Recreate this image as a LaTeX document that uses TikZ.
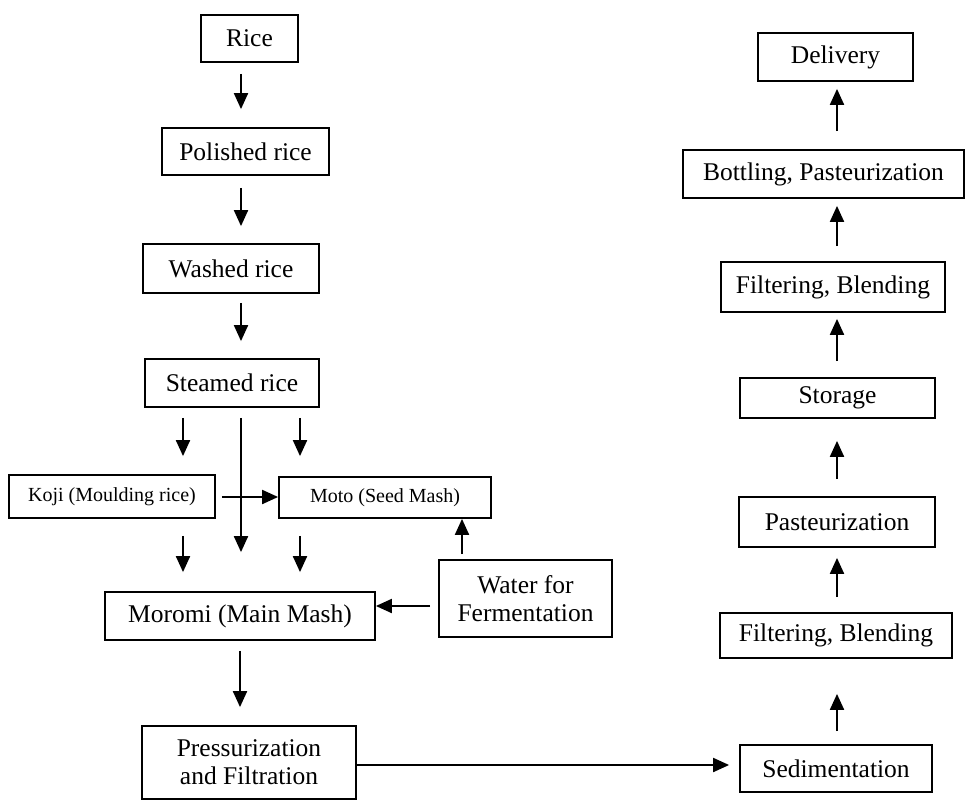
\documentclass[tikz,border=0pt]{standalone}
\usepackage{fontspec}
\setmainfont{Liberation Serif}
\usetikzlibrary{arrows.meta}
\tikzset{
  box/.style={draw=black, line width=1.8pt, inner sep=0pt, align=center,
    font=\fontsize{25.5}{28}\selectfont},
  smallbox/.style={box, font=\fontsize{20}{24}\selectfont},
  arr/.style={draw=black, line width=2pt, -{Triangle[length=16pt,width=14pt]}}
}
\begin{document}
\begin{tikzpicture}[x=1pt,y=-1pt]
\useasboundingbox (0,0) rectangle (966,800);
% left column
\node[box, minimum width=97pt, minimum height=47pt] (rice) at (249.5,38.5) {Rice};
\node[box, minimum width=167pt, minimum height=47pt] (polished) at (245.5,151.5) {Polished rice};
\node[box, minimum width=176pt, minimum height=49pt] (washed) at (231,268.5) {Washed rice};
\node[box, minimum width=174pt, minimum height=48pt] (steamed) at (232,383) {Steamed rice};
\node[smallbox, minimum width=206pt, minimum height=43pt] (koji) at (112,496.5) {Koji (Moulding rice)};
\node[smallbox, minimum width=212pt, minimum height=41pt] (moto) at (385,497.5) {Moto (Seed Mash)};
\node[box, minimum width=270pt, minimum height=48pt] (moromi) at (240,616) {Moromi (Main Mash)};
\node[box, minimum width=173pt, minimum height=77pt] (water) at (525.5,598.5) {Water for\\Fermentation};
\node[box, minimum width=214pt, minimum height=73pt] (press) at (249,762.5) {Pressurization\\and Filtration};
% right column
\node[box, minimum width=192pt, minimum height=47pt] (sed) at (836,768.5) {Sedimentation};
\node[box, minimum width=232pt, minimum height=45pt] (filt2) at (836,635.5) {Filtering, Blending};
\node[box, minimum width=196pt, minimum height=50pt] (past) at (837,522) {Pasteurization};
\node[box, minimum width=195pt, minimum height=40pt] (storage) at (837.5,398) {Storage};
\node[box, minimum width=224pt, minimum height=50pt] (filt1) at (833,287) {Filtering, Blending};
\node[box, minimum width=281pt, minimum height=48pt] (bottling) at (823.5,174) {Bottling, Pasteurization};
\node[box, minimum width=155pt, minimum height=48pt] (delivery) at (835.5,57) {Delivery};
% reference coordinates for arrow lines
\coordinate (xL) at (241,0);
\coordinate (xK) at (183,0);
\coordinate (xM) at (300,0);
\coordinate (xR) at (837,0);
\coordinate (xW) at (462,0);
\coordinate (xP) at (240,0);
\coordinate (yKM) at (0,497);
\coordinate (yWM) at (0,606);
\coordinate (yPS) at (0,765);
% left arrows
\draw[arr, shorten <=11pt, shorten >=18pt] (rice.south -| xL) -- (polished.north -| xL);
\draw[arr, shorten <=12pt, shorten >=17pt] (polished.south -| xL) -- (washed.north -| xL);
\draw[arr, shorten <=9pt, shorten >=17pt] (washed.south -| xL) -- (steamed.north -| xL);
\draw[arr, shorten <=10pt, shorten >=18pt] (steamed.south -| xK) -- (koji.north -| xK);
\draw[arr, shorten <=10pt, shorten >=20pt] (steamed.south -| xM) -- (moto.north -| xM);
\draw[arr, shorten <=10pt, shorten >=39pt] (steamed.south -| xL) -- (moromi.north -| xL);
\draw[arr, shorten <=17pt, shorten >=19pt] (koji.south -| xK) -- (moromi.north -| xK);
\draw[arr, shorten <=17pt, shorten >=19pt] (moto.south -| xM) -- (moromi.north -| xM);
\draw[arr, shorten <=6pt] (koji.east |- yKM) -- (moto.west |- yKM);
\draw[arr, shorten <=5pt] (water.north -| xW) -- (moto.south -| xW);
\draw[arr, shorten <=8pt] (water.west |- yWM) -- (moromi.east |- yWM);
\draw[arr, shorten <=10pt, shorten >=18pt] (moromi.south -| xP) -- (press.north -| xP);
\draw[arr, shorten >=10pt] (press.east |- yPS) -- (sed.west |- yPS);
% right arrows
\draw[arr, shorten <=13pt, shorten >=35pt] (sed.north -| xR) -- (filt2.south -| xR);
\draw[arr, shorten <=15pt, shorten >=10pt] (filt2.north -| xR) -- (past.south -| xR);
\draw[arr, shorten <=17pt, shorten >=22pt] (past.north -| xR) -- (storage.south -| xR);
\draw[arr, shorten <=16pt, shorten >=6pt] (storage.north -| xR) -- (filt1.south -| xR);
\draw[arr, shorten <=15pt, shorten >=7pt] (filt1.north -| xR) -- (bottling.south -| xR);
\draw[arr, shorten <=18pt, shorten >=7pt] (bottling.north -| xR) -- (delivery.south -| xR);
\end{tikzpicture}
\end{document}
